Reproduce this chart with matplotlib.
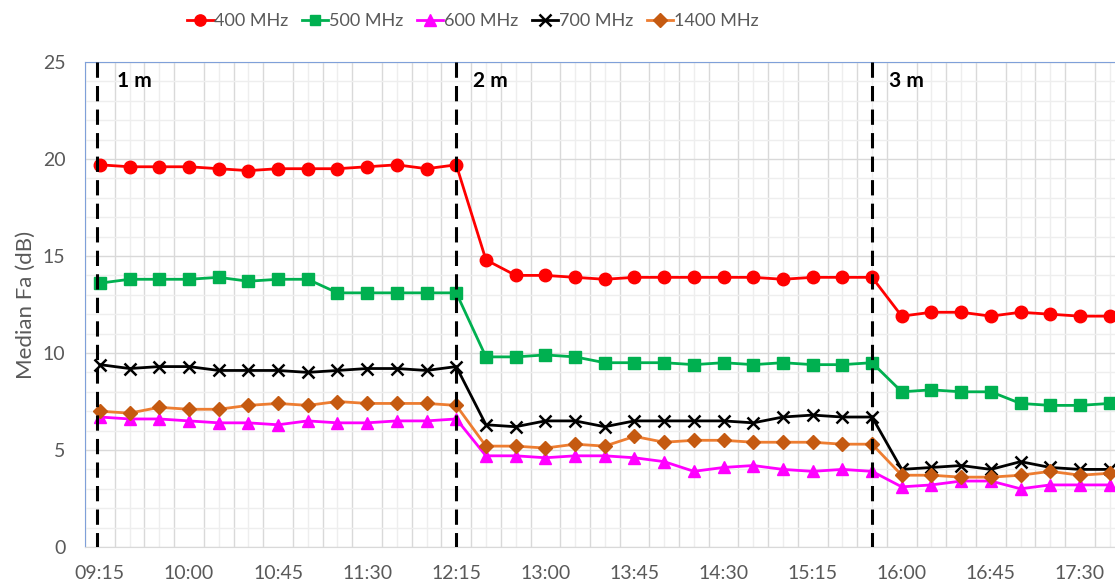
import matplotlib.pyplot as plt
import numpy as np

plt.rcParams['font.family'] = ['Lato', 'DejaVu Sans']

# median Fa per 15-min slot, antenna height 1 m / 2 m / 3 m
f400 = [19.7, 19.6, 19.6, 19.6, 19.5, 19.4, 19.5, 19.5, 19.5, 19.6, 19.7, 19.5, 19.7,
        14.8, 14.0, 14.0, 13.9, 13.8, 13.9, 13.9, 13.9, 13.9, 13.9, 13.8, 13.9, 13.9, 13.9,
        11.9, 12.1, 12.1, 11.9, 12.1, 12.0, 11.9, 11.9]
f500 = [13.6, 13.8, 13.8, 13.8, 13.9, 13.7, 13.8, 13.8, 13.1, 13.1, 13.1, 13.1, 13.1,
        9.8, 9.8, 9.9, 9.8, 9.5, 9.5, 9.5, 9.4, 9.5, 9.4, 9.5, 9.4, 9.4, 9.5,
        8.0, 8.1, 8.0, 8.0, 7.4, 7.3, 7.3, 7.4]
f600 = [6.7, 6.6, 6.6, 6.5, 6.4, 6.4, 6.3, 6.5, 6.4, 6.4, 6.5, 6.5, 6.6,
        4.7, 4.7, 4.6, 4.7, 4.7, 4.6, 4.4, 3.9, 4.1, 4.2, 4.0, 3.9, 4.0, 3.9,
        3.1, 3.2, 3.4, 3.4, 3.0, 3.2, 3.2, 3.2]
f700 = [9.4, 9.2, 9.3, 9.3, 9.1, 9.1, 9.1, 9.0, 9.1, 9.2, 9.2, 9.1, 9.3,
        6.3, 6.2, 6.5, 6.5, 6.2, 6.5, 6.5, 6.5, 6.5, 6.4, 6.7, 6.8, 6.7, 6.7,
        4.0, 4.1, 4.2, 4.0, 4.4, 4.1, 4.0, 4.0]
f1400 = [7.0, 6.9, 7.2, 7.1, 7.1, 7.3, 7.4, 7.3, 7.5, 7.4, 7.4, 7.4, 7.3,
         5.2, 5.2, 5.1, 5.3, 5.2, 5.7, 5.4, 5.5, 5.5, 5.4, 5.4, 5.4, 5.3, 5.3,
         3.7, 3.7, 3.6, 3.6, 3.7, 3.9, 3.7, 3.8]

tick_labels = ['09:15', '10:00', '10:45', '11:30', '12:15', '13:00',
               '13:45', '14:30', '15:15', '16:00', '16:45', '17:30']
heights = ['1 m', '2 m', '3 m']
height_start = [-0.1, 12, 26]   # slot where each height begins

x = np.arange(len(f400))
grey = '#595959'

fig = plt.figure(figsize=(11.15, 5.84), dpi=100)
ax = fig.add_axes([85 / 1115, 37 / 584, 1030 / 1115, 485 / 584])

ax.plot(x, f400, color='#FF0000', lw=2, marker='o', ms=9, label='400 MHz', zorder=5)
ax.plot(x, f500, color='#00B050', lw=2, marker='s', ms=8, label='500 MHz', zorder=5)
ax.plot(x, f600, color='#FF00FF', lw=2, marker='^', ms=9, label='600 MHz', zorder=5)
ax.plot(x, f700, color='black', lw=2, marker='x', ms=9, mew=1.8, label='700 MHz', zorder=5)
ax.plot(x, f1400, color='#ED7D31', lw=2, marker='D', ms=7.5, mfc='#C55A11', mec='#C55A11',
        label='1400 MHz', zorder=5)

# dashed separators between antenna heights
for xs, name in zip(height_start, heights):
    ax.plot([xs, xs], [25, 0], color='black', lw=2.2, ls=(0, (5, 2.7)), zorder=6)
    ax.text(max(xs, 0) + 0.58, 24, name, fontsize=15, fontweight='bold', va='center', ha='left')

ax.set_xlim(-0.5, 34.18)
ax.set_ylim(0, 25)
ax.set_xticks(np.arange(0, len(x), 3))
ax.set_xticklabels(tick_labels)
ax.set_xticks(x, minor=True)
ax.set_yticks(np.arange(0, 26, 5))
ax.set_yticks(np.arange(0, 26, 1), minor=True)

ax.xaxis.grid(False, which='major')
ax.xaxis.grid(True, which='minor', color='#EEEEEE', lw=1)
ax.yaxis.grid(True, which='major', color='#D9D9D9', lw=1)
ax.yaxis.grid(True, which='minor', color='#EEEEEE', lw=1)
for b in np.arange(-0.5, len(x), 1):
    ax.axvline(b, color='#D9D9D9', lw=1, zorder=0.5)
ax.set_axisbelow(True)

ax.tick_params(which='both', length=0)
ax.tick_params(axis='x', pad=13, labelsize=14, labelcolor=grey)
ax.tick_params(axis='y', pad=14, labelsize=14, labelcolor=grey)

ax.spines['right'].set_visible(False)
ax.spines['left'].set_color('#7FA0D9')
ax.spines['top'].set_color('#7FA0D9')
ax.spines['bottom'].set_color('#D9D9D9')

ax.set_ylabel('Median Fa (dB)', fontsize=16, color=grey, labelpad=5)

leg = fig.legend(loc='center', bbox_to_anchor=(473 / 1115, 1 - 21 / 584), ncol=5,
                 frameon=False, fontsize=13, handlelength=1.45, handletextpad=0.05,
                 columnspacing=0.75, markerscale=0.9)
for t in leg.get_texts():
    t.set_color(grey)

fig.savefig('out.png', dpi=100)
